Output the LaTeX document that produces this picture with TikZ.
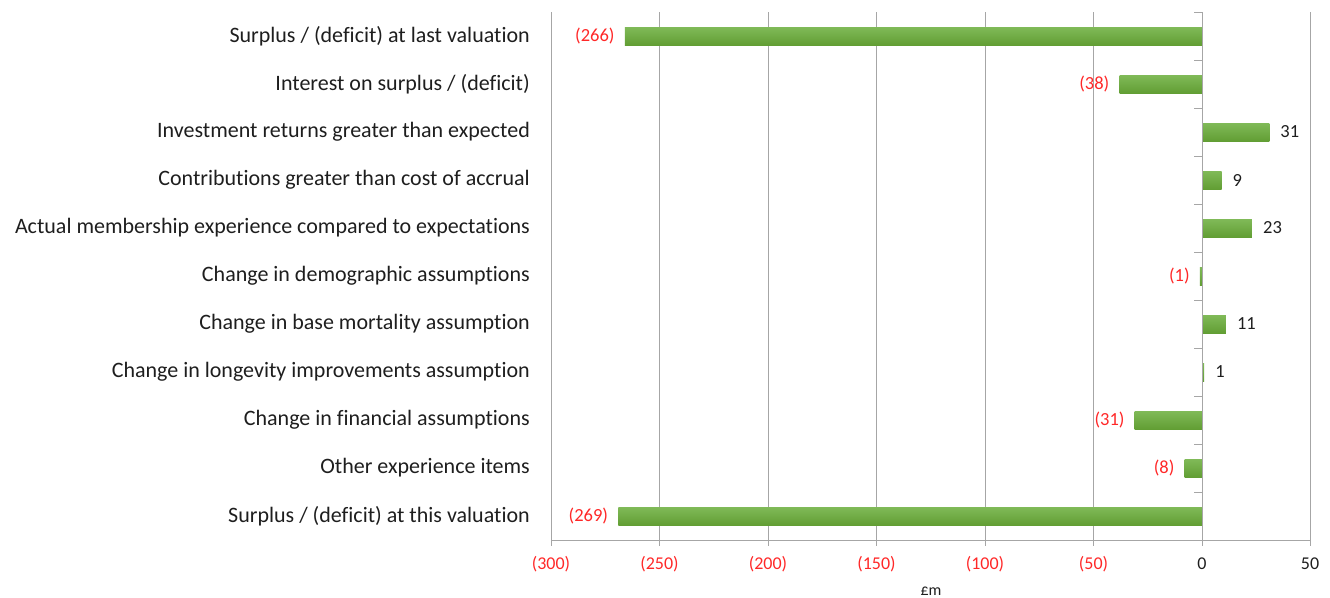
\documentclass[tikz,border=0pt]{standalone}
\usepackage{fontspec}
\setmainfont[Ligatures=NoCommon]{Carlito}
\definecolor{bartop}{RGB}{128,186,88}
\definecolor{barbot}{RGB}{98,158,52}
\definecolor{negred}{RGB}{255,40,40}
\definecolor{textcol}{RGB}{30,30,30}
\begin{document}
\begin{tikzpicture}[x=1pt,y=-1pt,
  grid/.style={draw=black!35,line width=0.9pt},
  axisline/.style={draw=black!35,line width=0.9pt},
  bar/.style={top color=bartop, bottom color=barbot, draw=none},
  catlabel/.style={anchor=east,font=\fontsize{22}{24}\selectfont,text=textcol,inner sep=0pt},
  neglabel/.style={anchor=east,font=\fontsize{18.5}{20}\selectfont,text=negred,inner sep=0pt},
  poslabel/.style={anchor=west,font=\fontsize{18.5}{20}\selectfont,text=textcol,inner sep=0pt},
  ticklabel/.style={anchor=center,font=\fontsize{18}{20}\selectfont,inner sep=0pt}]
\useasboundingbox (0,0) rectangle (1330,597);
% gridlines
\foreach \v in {-250,-200,-150,-100,-50,50} {
  \draw[grid] ({1202+\v*2.17},12) -- ({1202+\v*2.17},540);
}
\draw[axisline] (551,12) -- (551,540);
% bottom axis
\draw[axisline] (551,540) -- (1310,540);
\foreach \v in {-300,-250,-200,-150,-100,-50,0,50} {
  \draw[axisline] ({1202+\v*2.17},540) -- ({1202+\v*2.17},546);
}
% tick labels
\foreach \v/\t in {-300/(300),-250/(250),-200/(200),-150/(150),-100/(100),-50/(50)} {
  \node[ticklabel,text=negred] (t\v) at ({1202+\v*2.17},564) {\t};
}
\node[ticklabel,text=textcol] (t0) at (1202,564) {0};
\node[ticklabel,text=textcol] (t50) at (1310,564) {50};
\node[font=\fontsize{16}{18}\selectfont,text=textcol,inner sep=0pt] (unit) at (931,591) {£m};
% bars
\foreach \k/\name/\v/\lab in {
  0/{Surplus / (deficit) at last valuation}/-266/(266),
  1/{Interest on surplus / (deficit)}/-38/(38),
  2/{Investment returns greater than expected}/31/31,
  3/{Contributions greater than cost of accrual}/9/9,
  4/{Actual membership experience compared to expectations}/23/23,
  5/{Change in demographic assumptions}/-1/(1),
  6/{Change in base mortality assumption}/11/11,
  7/{Change in longevity improvements assumption}/1/1,
  8/{Change in financial assumptions}/-31/(31),
  9/{Other experience items}/-8/(8),
  10/{Surplus / (deficit) at this valuation}/-269/(269)} {
  \pgfmathsetmacro{\yc}{36+48*\k}
  \pgfmathsetmacro{\xe}{1202+\v*2.17}
  \node[catlabel] (c\k) at (530,\yc) {\name};
  \shade[bar] (1202,\yc-9) rectangle (\xe,\yc+9);
  \ifdim \v pt<0pt
    \node[neglabel] (v\k) at (\xe-10,\yc) {\lab};
  \else
    \node[poslabel] (v\k) at (\xe+11,\yc) {\lab};
  \fi
}
% zero axis
\draw[axisline] (1202,12) -- (1202,540);
\foreach \k in {0,...,10} {
  \draw[axisline] (1194,{12+48*\k}) -- (1202,{12+48*\k});
}
\end{tikzpicture}
\end{document}
